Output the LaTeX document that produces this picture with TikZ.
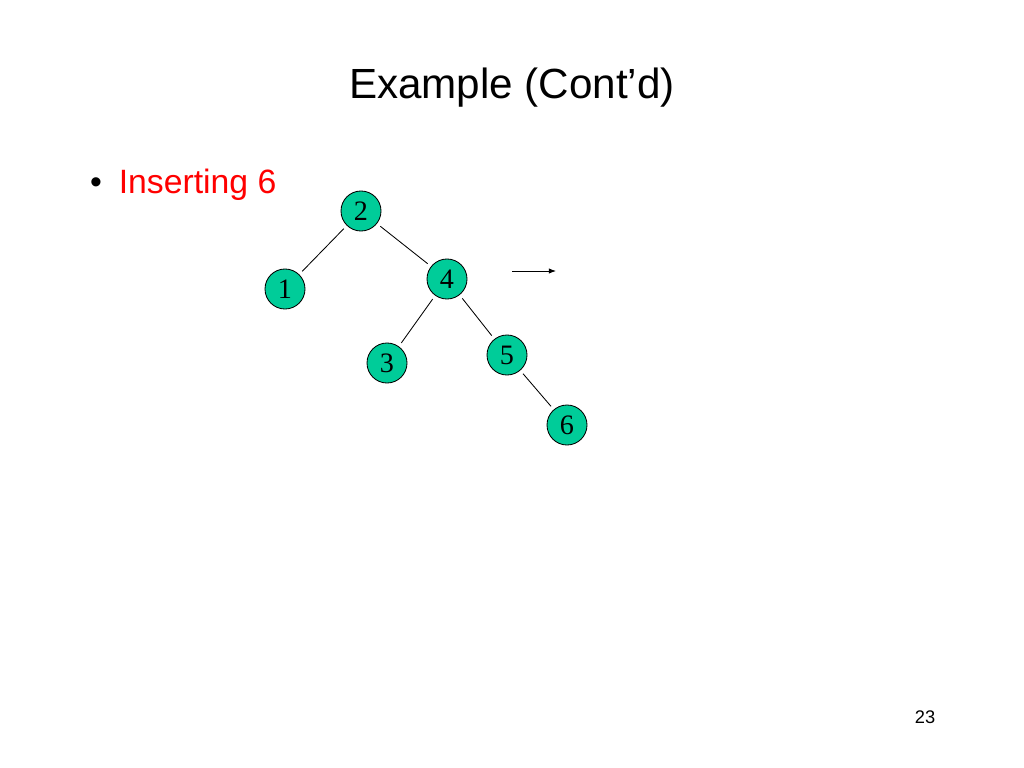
\documentclass[tikz,border=0pt]{standalone}
\usepackage{fontspec}
\setmainfont{Liberation Sans}
\newfontfamily\keyfont{Liberation Serif}
\usetikzlibrary{arrows.meta}
\definecolor{keygreen}{RGB}{0,204,153}
\tikzstyle{key}=[draw, circle, fill=keygreen, minimum size=1cm, inner sep=0pt, font=\keyfont\fontsize{20}{20}\selectfont]
\tikzstyle{edge}=[shorten <=3pt, shorten >=3pt]
\begin{document}
\begin{tikzpicture}[x=0.025cm, y=-0.025cm, line width=0.6pt]
				\useasboundingbox (0,0) rectangle (1024,768);
				
				\node (title) at (512,88) {\fontsize{30}{30}\selectfont Example (Cont’d)};
				\node (bullet) [anchor=west, text=red] at (85,185) {\fontsize{24}{24}\selectfont \textcolor{black}{\textbullet}\hspace{0.5em}Inserting 6};
				\node (page) at (925,717) {\fontsize{13}{13}\selectfont 23};
				
				\node (n2) [key] at (361,211) {2};
				\node (n1) [key] at (285,289) {1};
				\node (n4) [key] at (447,279) {4};
				\node (n3) [key] at (387,363) {3};
				\node (n5) [key] at (507,355) {5};
				\node (n6) [key] at (567,425) {6};
				
				\draw [edge] (n2) to (n1);
				\draw [edge] (n2) to (n4);
				\draw [edge] (n4) to (n3);
				\draw [edge] (n4) to (n5);
				\draw [edge] (n5) to (n6);
				
				\coordinate (from) at (512,271);
				\coordinate (to) at (556,271);
				\draw [-{Latex[length=5pt]}] (from) to (to);
\end{tikzpicture}
\end{document}
